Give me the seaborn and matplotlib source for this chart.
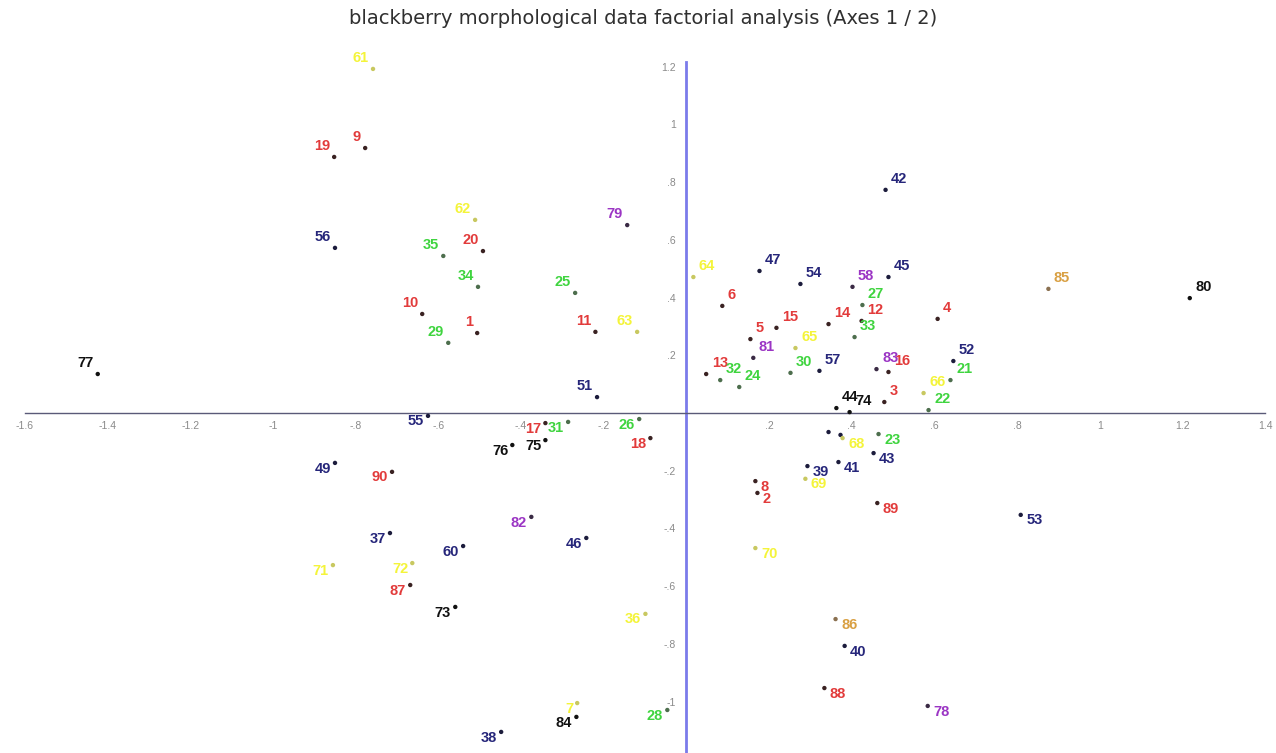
import matplotlib
matplotlib.use("Agg")
import matplotlib.pyplot as plt
import pandas as pd
import seaborn as sns
from matplotlib.ticker import MultipleLocator, FuncFormatter

# Factor scores of each accession on axes 1 and 2, grouped by cluster
red_ids = ["1", "2", "3", "4", "5", "6", "8", "9", "10", "11", "12", "13", "14", "15",
           "16", "17", "18", "19", "20", "87", "88", "89", "90"]
red_x = [-0.506, 0.172, 0.479, 0.608, 0.155, 0.087, 0.167, -0.777, -0.639, -0.220, 0.424,
         0.048, 0.344, 0.218, 0.489, -0.341, -0.087, -0.852, -0.492, -0.668, 0.334, 0.462, -0.712]
red_y = [0.277, -0.277, 0.038, 0.326, 0.256, 0.371, -0.236, 0.918, 0.343, 0.281, 0.319,
         0.135, 0.308, 0.295, 0.142, -0.035, -0.087, 0.887, 0.561, -0.596, -0.953, -0.312, -0.204]

green_ids = ["21", "22", "23", "24", "25", "26", "27", "28", "29", "30", "31", "32", "33", "34", "35"]
green_x = [0.639, 0.586, 0.465, 0.128, -0.269, -0.114, 0.426, -0.046, -0.576, 0.252, -0.286,
           0.082, 0.407, -0.504, -0.588]
green_y = [0.114, 0.010, -0.073, 0.090, 0.416, -0.021, 0.374, -1.029, 0.243, 0.139, -0.031,
           0.114, 0.263, 0.437, 0.544]

navy_ids = ["37", "38", "39", "40", "41", "42", "43", "45", "46", "47", "49", "51", "52",
            "53", "54", "55", "56", "57", "60"]
navy_x = [-0.717, -0.448, 0.293, 0.383, 0.368, 0.482, 0.453, 0.489, -0.242, 0.177, -0.850,
          -0.216, 0.646, 0.809, 0.276, -0.625, -0.850, 0.322, -0.540]
navy_y = [-0.416, -1.105, -0.184, -0.807, -0.170, 0.773, -0.139, 0.471, -0.433, 0.492, -0.173,
          0.055, 0.180, -0.353, 0.447, -0.010, 0.572, 0.146, -0.461]

# two accessions whose labels are covered in the crowded zone under the axis
navy_hidden_x = [0.344, 0.373]
navy_hidden_y = [-0.066, -0.076]

black_ids = ["44", "73", "74", "75", "76", "77", "80", "84"]
black_x = [0.363, -0.559, 0.395, -0.341, -0.421, -1.424, 1.218, -0.266]
black_y = [0.017, -0.672, 0.003, -0.094, -0.111, 0.135, 0.398, -1.053]

purple_ids = ["58", "78", "79", "81", "82", "83"]
purple_x = [0.402, 0.584, -0.143, 0.162, -0.375, 0.460]
purple_y = [0.437, -1.015, 0.651, 0.191, -0.360, 0.152]

orange_ids = ["85", "86"]
orange_x = [0.876, 0.361]
orange_y = [0.430, -0.714]

yellow_ids = ["61", "62", "63", "64", "65", "66", "68", "69", "70", "71", "72", "36", "7"]
yellow_x = [-0.758, -0.511, -0.119, 0.017, 0.264, 0.574, 0.378, 0.288, 0.167, -0.855, -0.663,
            -0.099, -0.264]
yellow_y = [1.192, 0.669, 0.281, 0.471, 0.225, 0.069, -0.087, -0.228, -0.468, -0.527, -0.520,
            -0.696, -1.005]

label_colors = {"red": "#e23b3b", "green": "#3fd43f", "navy": "#26267a", "black": "#111111",
                "purple": "#9b35c4", "orange": "#d9a043", "yellow": "#f4f43a"}
dot_colors = {"red": "#3a2222", "green": "#4d6e4d", "navy": "#1c1c3c", "black": "#111111",
              "purple": "#3a2a44", "orange": "#8a7050", "yellow": "#c8c860"}

frames = []
for name, ids, xs, ys in [("red", red_ids, red_x, red_y), ("green", green_ids, green_x, green_y),
                          ("navy", navy_ids, navy_x, navy_y),
                          ("navy", [""] * len(navy_hidden_x), navy_hidden_x, navy_hidden_y),
                          ("black", black_ids, black_x, black_y),
                          ("purple", purple_ids, purple_x, purple_y),
                          ("orange", orange_ids, orange_x, orange_y),
                          ("yellow", yellow_ids, yellow_x, yellow_y)]:
    frames.append(pd.DataFrame({"id": ids, "axis1": xs, "axis2": ys, "group": name}))
df = pd.concat(frames, ignore_index=True)

sns.set_style("white")
plt.rcParams["font.family"] = ["Liberation Sans", "DejaVu Sans"]

fig = plt.figure(figsize=(12.76, 7.53), dpi=100)
ax = fig.add_axes([25 / 1276, 0, 1240 / 1276, 691 / 753])

sns.scatterplot(data=df, x="axis1", y="axis2", hue="group", palette=dot_colors,
                s=10, edgecolor="none", legend=False, ax=ax, zorder=3)

# labels are pushed away from the origin, into the quadrant of each point
for _, row in df[df["id"] != ""].iterrows():
    right = row.axis1 >= 0
    up = row.axis2 >= 0
    ax.annotate(row.id, (row.axis1, row.axis2),
                xytext=(4 if right else -3, 3 if up else 1), textcoords="offset points",
                ha="left" if right else "right", va="bottom" if up else "top",
                fontsize=10.5, fontweight="bold", color=label_colors[row.group], zorder=4)

ax.set_xlim(-1.6, 1.4)
ax.set_ylim(-1.178, 1.216)
ax.set_xlabel("")
ax.set_ylabel("")

for side in ("top", "right"):
    ax.spines[side].set_visible(False)
ax.spines["left"].set_position(("data", 0))
ax.spines["bottom"].set_position(("data", 0))
ax.spines["bottom"].set_color("#5a5a78")
ax.spines["bottom"].set_linewidth(1.0)
ax.spines["left"].set_color("#7b7bea")
ax.spines["left"].set_linewidth(2.0)


def fmt(v, _pos):
    v = round(v, 1)
    if v == 0:
        return ""
    s = f"{v:g}"
    return s.replace("0.", ".")


for axis in (ax.xaxis, ax.yaxis):
    axis.set_major_locator(MultipleLocator(0.2))
    axis.set_minor_locator(MultipleLocator(0.1))
    axis.set_major_formatter(FuncFormatter(fmt))

ax.tick_params(axis="x", which="major", direction="inout", length=7, width=1,
               color="#5a5a78", labelsize=7.5, labelcolor="#8a8a8a", pad=2)
ax.tick_params(axis="x", which="minor", direction="inout", length=4, width=0.8, color="#5a5a78")
ax.tick_params(axis="y", which="major", direction="inout", length=7, width=1,
               color="#5a5a78", labelsize=7.5, labelcolor="#8a8a8a", pad=4)
ax.tick_params(axis="y", which="minor", direction="inout", length=4, width=0.8, color="#5a5a78")

fig.text(643 / 1276, 1 - 18 / 753,
         "blackberry morphological data factorial analysis (Axes 1 / 2)",
         ha="center", va="center", fontsize=14, color="#303030", family="DejaVu Sans")

fig.savefig("out.png", dpi=100)
